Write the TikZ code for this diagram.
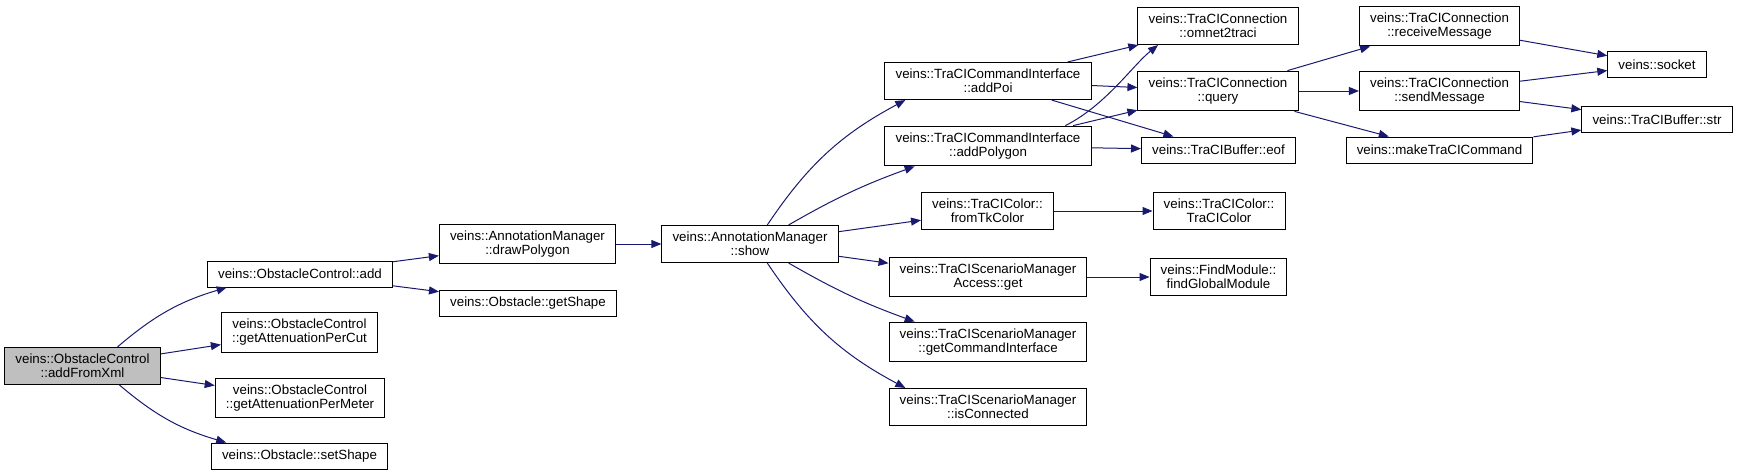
\documentclass[tikz,border=0pt]{standalone}
\usepackage{fontspec}
\setmainfont{Liberation Sans}
\usepackage{tikz}
\usetikzlibrary{arrows.meta}
\definecolor{edgeblue}{HTML}{191970}
\definecolor{focusgray}{HTML}{BFBFBF}

\tikzset{
  fn/.style={draw=black, line width=0.75pt, fill=white, inner xsep=8pt, inner ysep=5pt,
    minimum height=19.5pt, align=center, font=\fontsize{10}{10.5}\selectfont},
  fnfocus/.style={fn, fill=focusgray},
  call/.style={draw=edgeblue, line width=0.75pt, -{Triangle[length=7.5pt,width=6pt]}}
}

\begin{document}
\begin{tikzpicture}[x=0.75pt,y=-0.75pt]

\useasboundingbox (0,0) rectangle (1739,475);

		\node[fnfocus] (fromxml)  at (82.5,366)  {veins::ObstacleControl\\::addFromXml};

		\node[fn] (add)     at (300,274)   {veins::ObstacleControl::add};
		\node[fn] (percut)  at (299.5,332.5) {veins::ObstacleControl\\::getAttenuationPerCut};
		\node[fn] (permeter) at (300,398)  {veins::ObstacleControl\\::getAttenuationPerMeter};
		\node[fn] (setshape) at (299.5,456) {veins::Obstacle::setShape};

		\node[fn] (drawpoly) at (527.5,244) {veins::AnnotationManager\\::drawPolygon};
		\node[fn] (getshape) at (528,303)   {veins::Obstacle::getShape};
		\node[fn] (show)     at (750,244)   {veins::AnnotationManager\\::show};

		\node[fn] (addpoi)   at (988,81)    {veins::TraCICommandInterface\\::addPoi};
		\node[fn] (addpoly)  at (988,146)   {veins::TraCICommandInterface\\::addPolygon};
		\node[fn] (fromtk)   at (987.5,211) {veins::TraCIColor::\\fromTkColor};
		\node[fn] (smget)    at (988,277)   {veins::TraCIScenarioManager\\Access::get};
		\node[fn] (getcmd)   at (988,342)   {veins::TraCIScenarioManager\\::getCommandInterface};
		\node[fn] (isconn)   at (988,407)   {veins::TraCIScenarioManager\\::isConnected};

		\node[fn] (omnet)    at (1218,26)   {veins::TraCIConnection\\::omnet2traci};
		\node[fn] (query)    at (1218,91)   {veins::TraCIConnection\\::query};
		\node[fn] (eof)      at (1218.5,150) {veins::TraCIBuffer::eof};
		\node[fn] (tccolor)  at (1219,211)  {veins::TraCIColor::\\TraCIColor};
		\node[fn] (findmod)  at (1218.5,277) {veins::FindModule::\\findGlobalModule};

		\node[fn] (recvmsg)  at (1439.5,26) {veins::TraCIConnection\\::receiveMessage};
		\node[fn] (sendmsg)  at (1439.5,91) {veins::TraCIConnection\\::sendMessage};
		\node[fn] (makecmd)  at (1439.5,150) {veins::makeTraCICommand};

		\node[fn] (socket)   at (1657,64.5) {veins::socket};
		\node[fn] (bufstr)   at (1657,119.5) {veins::TraCIBuffer::str};

 % calls out of addFromXml
 \draw[call] (fromxml.north) ++(35,0) to[bend left=12] ([xshift=-55pt]add.south);
 \draw[call] (fromxml) -- (percut);
 \draw[call] (fromxml) -- (permeter);
 \draw[call] (fromxml.south) ++(37,0) to[bend right=12] ([xshift=-55pt]setshape.north);

 \draw[call] (add) -- (drawpoly);
 \draw[call] (add) -- (getshape);
 \draw[call] (drawpoly) -- (show);

 % calls out of show
 \draw[call] ([xshift=13pt]show.north) to[bend left=14] ([xshift=-62pt]addpoi.south);
 \draw[call] ([xshift=29pt]show.north) to[bend left=5] ([xshift=-55pt]addpoly.south);
 \draw[call] (show) -- (fromtk);
 \draw[call] (show) -- (smget);
 \draw[call] ([xshift=29pt]show.south) to[bend right=5] ([xshift=-55pt]getcmd.north);
 \draw[call] ([xshift=13pt]show.south) to[bend right=14] ([xshift=-62pt]isconn.north);

 \draw[call] (addpoi) -- (omnet);
 \draw[call] (addpoi) -- (query);
 \draw[call] (addpoi) -- (eof);
 \draw[call] ([xshift=58pt]addpoly.north) .. controls +(40,-20) and +(-25,20) .. ([xshift=-45pt]omnet.south);
 \draw[call] (addpoly) -- (query);
 \draw[call] (addpoly) -- (eof);
 \draw[call] (fromtk) -- (tccolor);
 \draw[call] (smget) -- (findmod);

 \draw[call] (query) -- (recvmsg);
 \draw[call] (query) -- (sendmsg);
 \draw[call] (query) -- (makecmd);
 \draw[call] (recvmsg) -- (socket);
 \draw[call] (sendmsg) -- (socket);
 \draw[call] (sendmsg) -- (bufstr);
 \draw[call] (makecmd) -- (bufstr);

\end{tikzpicture}
\end{document}
